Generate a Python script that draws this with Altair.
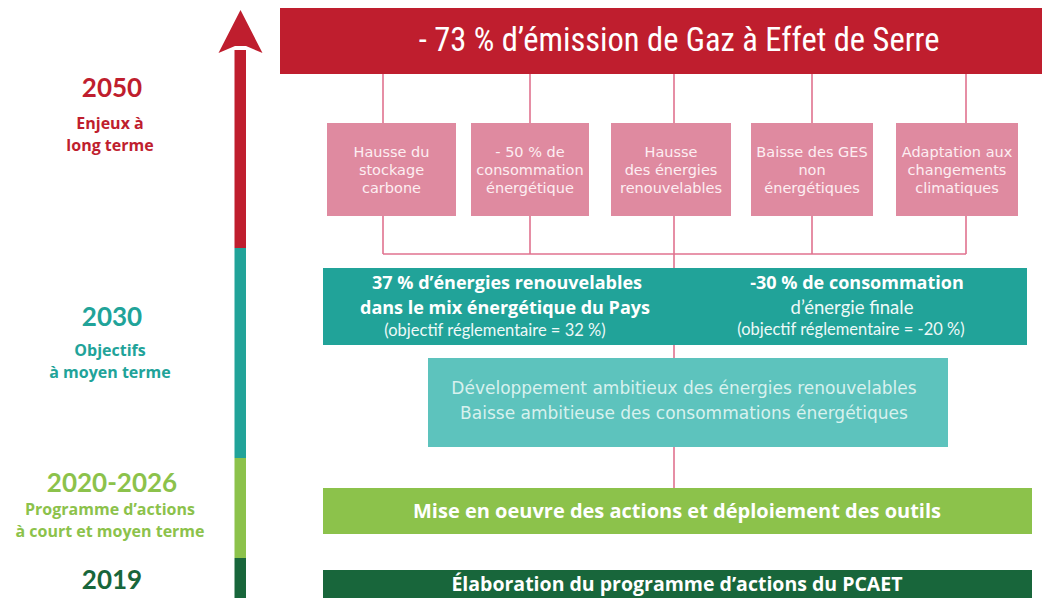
import altair as alt
import pandas as pd

# ---- colours
RED = "#bf1e2e"
TEAL = "#21a399"
TEAL_L = "#5dc3bd"
LGREEN = "#8cc24b"
DGREEN = "#18663b"
PINK = "#df8aa0"
LINK = "#e0728f"

# ---- texts
title_text = ["- 73 % d’émission de Gaz à Effet de Serre"]

years = ["2050", "2030", "2020-2026", "2019"]
year_colors = [RED, TEAL, LGREEN, DGREEN]
year_y = [89, 318, 484, 581]

sub_text = ["Enjeux à", "long terme", "Objectifs", "à moyen terme",
            "Programme d’actions", "à court et moyen terme"]
sub_colors = [RED, RED, TEAL, TEAL, LGREEN, LGREEN]
sub_y = [124, 146, 351, 373, 510, 532]

pink_labels = [
    ["Hausse du", "stockage", "carbone"],
    ["- 50 % de", "consommation", "énergétique"],
    ["Hausse", "des énergies", "renouvelables"],
    ["Baisse des GES", "non", "énergétiques"],
    ["Adaptation aux", "changements", "climatiques"],
]
pink_x = [327, 471, 611, 751, 896]
pink_x2 = [456, 589, 731, 873, 1018]
pink_line_y = [153, 171, 189]
link_x = [383, 530, 674, 812, 966]

teal_bold = ["37 % d’énergies renouvelables", "dans le mix énergétique du Pays",
             "-30 % de consommation"]
teal_bold_x = [507, 505, 857]
teal_bold_y = [284, 309, 284]
teal_bold_size = [18, 18, 18]

teal_reg = ["(objectif réglementaire = 32 %)", "d’énergie finale",
            "(objectif réglementaire = -20 %)"]
teal_reg_x = [495, 852, 851]
teal_reg_y = [331, 308, 330]
teal_reg_size = [16.5, 18.5, 16.5]

light_teal_text = ["Développement ambitieux des énergies renouvelables",
                   "Baisse ambitieuse des consommations énergétiques"]
light_teal_y = [389, 414]

action_text = ["Mise en oeuvre des actions et déploiement des outils",
               "Élaboration du programme d’actions du PCAET"]
action_y = [512, 585]
action_size = [20, 19.5]

# ---- layout tables
rects = pd.DataFrame({
    "x": [280] + pink_x + [323, 428, 323, 323] + [234.5] * 4,
    "x2": [1050] + pink_x2 + [1027, 948, 1032, 1032] + [246] * 4,
    "y": [7] + [123] * 5 + [268, 358, 488, 570] + [50, 248, 458, 558],
    "y2": [74] + [216] * 5 + [345, 447, 534, 601] + [248, 458, 558, 606],
    "c": [RED] + [PINK] * 5 + [TEAL, TEAL_L, LGREEN, DGREEN] + [RED, TEAL, LGREEN, DGREEN],
})

rules = pd.DataFrame({
    "x": link_x + link_x + [link_x[0], 674, 674, 674],
    "x2": link_x + link_x + [link_x[-1], 674, 674, 674],
    "y": [74] * 5 + [216] * 5 + [254, 254, 345, 447],
    "y2": [123] * 5 + [254] * 5 + [254, 268, 358, 488],
})

X = alt.Scale(domain=[8, 1042])
Y = alt.Scale(domain=[8, 598], reverse=True)


def xy():
    return dict(x=alt.X("x:Q", scale=X, axis=None),
                y=alt.Y("y:Q", scale=Y, axis=None))


rect_layer = alt.Chart(rects).mark_rect().encode(
    **xy(), x2="x2:Q", y2="y2:Q", color=alt.Color("c:N", scale=None))

rule_layer = alt.Chart(rules).mark_rule(color=LINK, strokeWidth=1.6).encode(
    **xy(), x2="x2:Q", y2="y2:Q")

head = alt.Chart(pd.DataFrame({"x": [240.5], "y": [31.5]})).mark_point(
    shape="M0,-0.977L1,0.977L0.25,0.66L-0.25,0.66L-1,0.977Z",
    filled=True, opacity=1, color=RED, size=1936, strokeWidth=0).encode(**xy())

title_layer = alt.Chart(pd.DataFrame({"x": [679], "y": [41], "t": title_text})).mark_text(
    font="Liberation Sans Narrow, Roboto Condensed, Liberation Sans", fontSize=32.5,
    color="#ffffff", align="center", baseline="middle").encode(**xy(), text="t:N")

year_layer = alt.Chart(pd.DataFrame({"x": [112] * 4, "y": year_y, "t": years, "c": year_colors})).mark_text(
    font="Lato", fontWeight="bold", fontSize=26, align="center", baseline="middle").encode(
    **xy(), text="t:N", color=alt.Color("c:N", scale=None))

sub_layer = alt.Chart(pd.DataFrame({"x": [110] * 6, "y": sub_y, "t": sub_text, "c": sub_colors})).mark_text(
    font="Open Sans", fontWeight="bold", fontSize=16, align="center", baseline="middle").encode(
    **xy(), text="t:N", color=alt.Color("c:N", scale=None))

pink_rows = []
for i, lines in enumerate(pink_labels):
    for j, t in enumerate(lines):
        pink_rows.append({"x": (pink_x[i] + pink_x2[i]) / 2, "y": pink_line_y[j], "t": t})
pink_text = alt.Chart(pd.DataFrame(pink_rows)).mark_text(
    font="DejaVu Sans", fontSize=14.5, color="#fdeef2", align="center", baseline="middle").encode(
    **xy(), text="t:N")

teal_bold_layer = alt.Chart(pd.DataFrame({"x": teal_bold_x, "y": teal_bold_y, "t": teal_bold, "s": teal_bold_size})).mark_text(
    font="Open Sans", fontWeight="bold", color="#ffffff", align="center", baseline="middle").encode(
    **xy(), text="t:N", size=alt.Size("s:Q", scale=None))

teal_reg_layer = alt.Chart(pd.DataFrame({"x": teal_reg_x, "y": teal_reg_y, "t": teal_reg, "s": teal_reg_size})).mark_text(
    font="Lato", color="#eef9f8", align="center", baseline="middle").encode(
    **xy(), text="t:N", size=alt.Size("s:Q", scale=None))

light_teal_layer = alt.Chart(pd.DataFrame({"x": [684, 684], "y": light_teal_y, "t": light_teal_text})).mark_text(
    font="DejaVu Sans", fontSize=17, color="#d8f1ee", align="center", baseline="middle").encode(
    **xy(), text="t:N")

action_layer = alt.Chart(pd.DataFrame({"x": [677, 677], "y": action_y, "t": action_text, "s": action_size})).mark_text(
    font="Open Sans", fontWeight="bold", color="#ffffff", align="center", baseline="middle").encode(
    **xy(), text="t:N", size=alt.Size("s:Q", scale=None))

chart = alt.layer(
    rule_layer, rect_layer, head, title_layer, year_layer, sub_layer, pink_text,
    teal_bold_layer, teal_reg_layer, light_teal_layer, action_layer,
).properties(width=1034, height=590, padding=0, autosize=alt.AutoSizeParams(type="none")
).configure_view(stroke=None)

chart.save("out.html", embed_options={"renderer": "svg", "actions": False})
